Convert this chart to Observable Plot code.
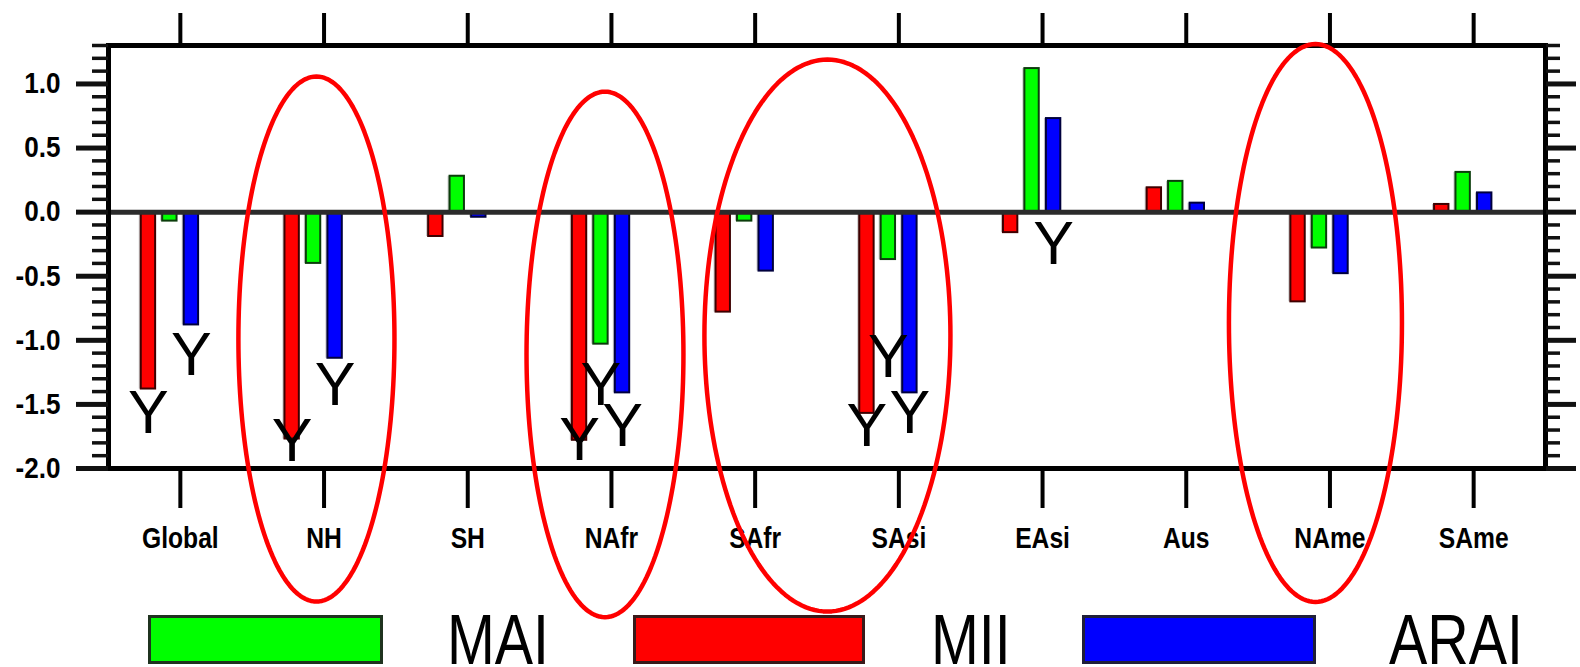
<!DOCTYPE html>
<html>
<head>
<meta charset="utf-8">
<script src="https://cdn.jsdelivr.net/npm/d3@7"></script>
<script src="https://cdn.jsdelivr.net/npm/@observablehq/plot@0.6"></script>
<style>
  body { margin: 0; background: #fff; }
  #wrap { position: relative; width: 1580px; height: 667px; overflow: hidden; background: #fff; }
  #chart svg { display: block; overflow: visible; }
  #legend { position: absolute; left: 0; top: 605px; width: 1580px; height: 62px; }
  .sw { position: absolute; top: 10px; height: 49px; box-sizing: border-box; border: 3px solid #222; }
  .lt { position: absolute; top: 10px; font: 70px "Liberation Sans", Arial, sans-serif; line-height: 50px;
        transform: scaleX(0.82); transform-origin: 0 0; color: #000; white-space: nowrap; }
</style>
</head>
<body>
<div id="wrap"><div id="chart"></div><div id="legend"></div></div>
<script>
// ---------------- data ----------------
const regions = ["Global", "NH", "SH", "NAfr", "SAfr", "SAsi", "EAsi", "Aus", "NAme", "SAme"];
const seriesNames = ["MII", "MAI", "ARAI"];
const mii  = [-1.38, -1.77, -0.19, -1.78, -0.78, -1.57, -0.16, 0.19, -0.70, 0.06];
const mai  = [-0.07, -0.40,  0.28, -1.03, -0.07, -0.37,  1.12, 0.24, -0.28, 0.31];
const arai = [-0.88, -1.14, -0.04, -1.41, -0.46, -1.41,  0.73, 0.07, -0.48, 0.15];
const yTickValues = [-2.0, -1.5, -1.0, -0.5, 0.0, 0.5, 1.0];
const yMinorValues = [-1.9, -1.8, -1.7, -1.6, -1.4, -1.3, -1.2, -1.1, -0.9, -0.8, -0.7, -0.6,
                      -0.4, -0.3, -0.2, -0.1, 0.1, 0.2, 0.3, 0.4, 0.6, 0.7, 0.8, 0.9, 1.1, 1.2, 1.3];
// significance markers "Y": region, series, value at which the marker sits
const sigRegion = ["Global", "Global", "NH", "NH", "NAfr", "NAfr", "NAfr", "SAsi", "SAsi", "SAsi", "EAsi"];
const sigSeries = ["MII", "ARAI", "MII", "ARAI", "MII", "MAI", "ARAI", "MII", "MAI", "ARAI", "ARAI"];
const sigValue  = [-1.57, -1.12, -1.79, -1.35, -1.78, -1.35, -1.67, -1.67, -1.13, -1.57, -0.25];
// highlight ellipses: centre (region position, value), half-width (regions), half-height (value)
const ellCx = [0.947, 2.955, 4.503, 7.899];
const ellCy = [-0.99, -1.11, -0.963, -0.865];
const ellRx = [0.543, 0.546, 0.856, 0.602];
const ellRy = [2.048, 2.05, 2.153, 2.176];

// ---------------- styles / layout ----------------
const fillColor   = {MII: "#ff0000", MAI: "#00ff00", ARAI: "#0000ff"};
const strokeColor = {MII: "#3d0000", MAI: "#0b3d0b", ARAI: "#00003d"};
const dodge = {MII: -0.222, MAI: -0.073, ARAI: 0.077};
const barW = 0.1;
const FONT = "Liberation Sans, Arial, sans-serif";

const values = {MII: mii, MAI: mai, ARAI: arai};
const rows = regions.flatMap((r, i) => seriesNames.map(s => ({i, region: r, s, v: values[s][i]})));
const pos = d => d.i + dodge[d.s];
const sig = sigRegion.map((r, k) => ({i: regions.indexOf(r), s: sigSeries[k], v: sigValue[k]}));
const ellPts = ellCx.flatMap((cx, k) => d3.range(0, 181).map(a => {
  const t = a / 180 * 2 * Math.PI;
  return {k, x: cx + ellRx[k] * Math.cos(t), y: ellCy[k] + ellRy[k] * Math.sin(t)};
}));

const marks = [];
// light shadow to the left of each bar
marks.push(Plot.rect(rows, {x1: d => pos(d) - barW / 2, x2: d => pos(d) + barW / 2, y1: () => 0, y2: "v",
  fill: "#c6c6c6", dx: -2}));
for (const s of seriesNames) {
  marks.push(Plot.rect(rows.filter(d => d.s === s), {
    x1: d => pos(d) - barW / 2, x2: d => pos(d) + barW / 2, y1: () => 0, y2: "v",
    fill: fillColor[s], stroke: strokeColor[s], strokeWidth: 2
  }));
}
marks.push(Plot.ruleY([0], {stroke: "#2b2b2b", strokeWidth: 5}));
marks.push(Plot.text(sig, {x: pos, y: "v", text: () => "Y", fontSize: 61, fontFamily: FONT,
  fill: "#000", lineAnchor: "middle", ariaLabel: "sig"}));
marks.push(Plot.frame({stroke: "#000", strokeWidth: 5}));
// axes
marks.push(Plot.axisY(yTickValues, {anchor: "left", tickSize: 32, tickPadding: 16, strokeWidth: 5, stroke: "#111",
  tickFormat: d => d.toFixed(1), fontSize: 29, fontWeight: "bold", fontFamily: FONT, label: null}));
marks.push(Plot.axisY(yMinorValues, {anchor: "left", tickSize: 16, strokeWidth: 3.5, stroke: "#111",
  tickFormat: () => "", label: null}));
marks.push(Plot.axisY(yTickValues, {anchor: "right", tickSize: 30, strokeWidth: 5, stroke: "#111",
  tickFormat: () => "", label: null}));
marks.push(Plot.axisY(yMinorValues, {anchor: "right", tickSize: 14, strokeWidth: 3.5, stroke: "#111",
  tickFormat: () => "", label: null}));
marks.push(Plot.axisX(d3.range(regions.length), {anchor: "bottom", tickSize: 40, tickPadding: 19, strokeWidth: 4,
  stroke: "#000", tickFormat: i => regions[i], fontSize: 29, fontWeight: "bold", fontFamily: FONT, label: null}));
marks.push(Plot.axisX(d3.range(regions.length), {anchor: "top", tickSize: 33, strokeWidth: 4, stroke: "#000",
  tickFormat: () => "", label: null}));
// ellipses
marks.push(Plot.line(ellPts, {x: "x", y: "y", z: "k", stroke: "#ff0000", strokeWidth: 4.5, curve: "linear"}));

const svg = Plot.plot({
  width: 1580,
  height: 605,
  marginLeft: 108,
  marginRight: 35,
  marginTop: 45,
  marginBottom: 137,
  style: {fontFamily: FONT, background: "transparent", overflow: "visible"},
  x: {type: "linear", domain: [-0.5, regions.length - 0.5], axis: null},
  y: {domain: [-2, 1.3], axis: null},
  marks
});
document.getElementById("chart").appendChild(svg);

// horizontally condense text (the original uses a narrow face), keeping each text's anchor point fixed
function squeeze(selector, k) {
  svg.querySelectorAll(selector).forEach(t => {
    try {
      if (!t.textContent) return;
      const r = t.getBoundingClientRect();
      if (!r.width) return;
      const anchor = getComputedStyle(t).textAnchor;
      const sx = anchor === "end" ? r.right : anchor === "middle" ? (r.left + r.right) / 2 : r.left;
      const parent = t.parentNode;
      const m = parent.getScreenCTM();
      const ax = (sx - m.e) / m.a;
      const g = document.createElementNS("http://www.w3.org/2000/svg", "g");
      g.setAttribute("transform", `translate(${ax},0) scale(${k},1) translate(${-ax},0)`);
      parent.insertBefore(g, t);
      g.appendChild(t);
    } catch (e) {}
  });
}
squeeze('g[aria-label="y-axis tick label"] text', 0.9);
squeeze('g[aria-label="x-axis tick label"] text', 0.85);
squeeze('g[aria-label="sig"] text', 0.72);

// ---------------- legend ----------------
const legendItems = [
  {name: "MAI", fill: "#00ff00", border: "#1f331f", box: [148, 235], text: 447},
  {name: "MII", fill: "#ff0000", border: "#3a1a1a", box: [633, 232], text: 931},
  {name: "ARAI", fill: "#0000ff", border: "#1f1f3a", box: [1082, 234], text: 1389}
];
const leg = document.getElementById("legend");
for (const it of legendItems) {
  const b = document.createElement("div");
  b.className = "sw";
  b.style.left = it.box[0] + "px"; b.style.width = it.box[1] + "px";
  b.style.background = it.fill; b.style.borderColor = it.border;
  leg.appendChild(b);
  const t = document.createElement("div");
  t.className = "lt"; t.style.left = it.text + "px"; t.textContent = it.name;
  leg.appendChild(t);
}
</script>
</body>
</html>
